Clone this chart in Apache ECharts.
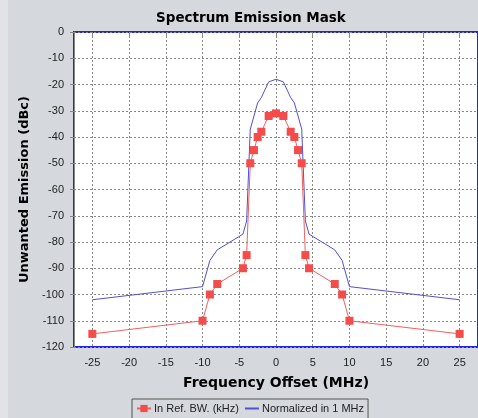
<!DOCTYPE html>
<html><head><meta charset="utf-8">
<script src="https://cdn.jsdelivr.net/npm/echarts@6/dist/echarts.min.js"></script>
<style>html,body{margin:0;padding:0;background:#d5d8dc;}#c{width:478px;height:418px;}</style>
</head><body><div id="c"></div>
<script>
const freqOffset = [-25, -10, -9, -8, -4.5, -4, -3.5, -3, -2.5, -2, -1, 0, 1, 2, 2.5, 3, 3.5, 4, 4.5, 8, 9, 10, 25];
const inRefBW = [-115, -110, -100, -96, -90, -85, -50, -45, -40, -38, -32, -31, -32, -38, -40, -45, -50, -85, -90, -96, -100, -110, -115];
const normalized1MHz = [-102, -97, -87, -83, -77, -72, -37, -32, -27, -25, -19, -18, -19, -25, -27, -32, -37, -72, -77, -83, -87, -97, -102];
const xTicks = [-25, -20, -15, -10, -5, 0, 5, 10, 15, 20, 25];
const seriesNames = ['In Ref. BW. (kHz)', 'Normalized in 1 MHz'];

const chart = echarts.init(document.getElementById('c'));
const lab = {color: '#222', fontSize: 11, fontFamily: 'Liberation Sans'};
const gridLine = {show: true, lineStyle: {color: '#888', type: [2, 2], width: 1}};
chart.setOption({
  backgroundColor: '#d5d8dc',
  animation: false,
  graphic: [{type: 'rect', shape: {x: 0, y: 0, width: 8, height: 418}, style: {fill: '#e2e3e6'}, z: -1}],
  title: {text: 'Spectrum Emission Mask', left: 151, top: 6,
    textStyle: {fontFamily: 'DejaVu Sans', fontWeight: 'bold', fontSize: 13.5, color: '#000'}},
  grid: {left: 74, top: 32, width: 406, height: 315, show: true, backgroundColor: '#fff',
    borderColor: '#2222e6', borderWidth: 2},
  legend: {bottom: -6, left: 132, padding: [4, 4, 10, 4], borderColor: '#555', borderWidth: 1,
    itemWidth: 14, itemHeight: 9, itemGap: 5,
    textStyle: {fontSize: 11, fontFamily: 'Liberation Sans', color: '#222', padding: [0, 0, 0, -2]},
    data: [{name: seriesNames[0]}, {name: seriesNames[1], itemStyle: {opacity: 0}}]},
  xAxis: {type: 'value', min: -27.5, max: 27.5,
    name: 'Frequency Offset (MHz)', nameLocation: 'middle', nameGap: 29,
    nameTextStyle: {fontFamily: 'DejaVu Sans', fontWeight: 'bold', fontSize: 14, color: '#000'},
    axisLine: {show: false},
    axisTick: {show: true, length: 4, lineStyle: {color: '#888'}, customValues: xTicks},
    axisLabel: Object.assign({margin: 10, customValues: xTicks}, lab),
    splitLine: gridLine},
  yAxis: {type: 'value', min: -120, max: 0, interval: 10,
    name: 'Unwanted Emission (dBc)', nameLocation: 'middle', nameGap: 34,
    nameTextStyle: {fontFamily: 'DejaVu Sans', fontWeight: 'bold', fontSize: 13, color: '#000'},
    axisLine: {show: true, onZero: false, lineStyle: {color: '#888'}},
    axisTick: {show: true, length: 4, lineStyle: {color: '#888'}},
    axisLabel: Object.assign({margin: 10}, lab),
    splitLine: gridLine},
  series: [
    {name: seriesNames[0], type: 'line', data: freqOffset.map((x, i) => [x, inRefBW[i]]),
      symbol: 'rect', symbolSize: 8, showSymbol: true,
      lineStyle: {color: '#f06060', width: 1}, itemStyle: {color: '#f44b4b'}, z: 3},
    {name: seriesNames[1], type: 'line', data: freqOffset.map((x, i) => [x, normalized1MHz[i]]),
      symbol: 'none', showSymbol: false,
      lineStyle: {color: '#5050d0', width: 1}, itemStyle: {color: '#5050d0'}, z: 2}
  ]
});
</script></body></html>
